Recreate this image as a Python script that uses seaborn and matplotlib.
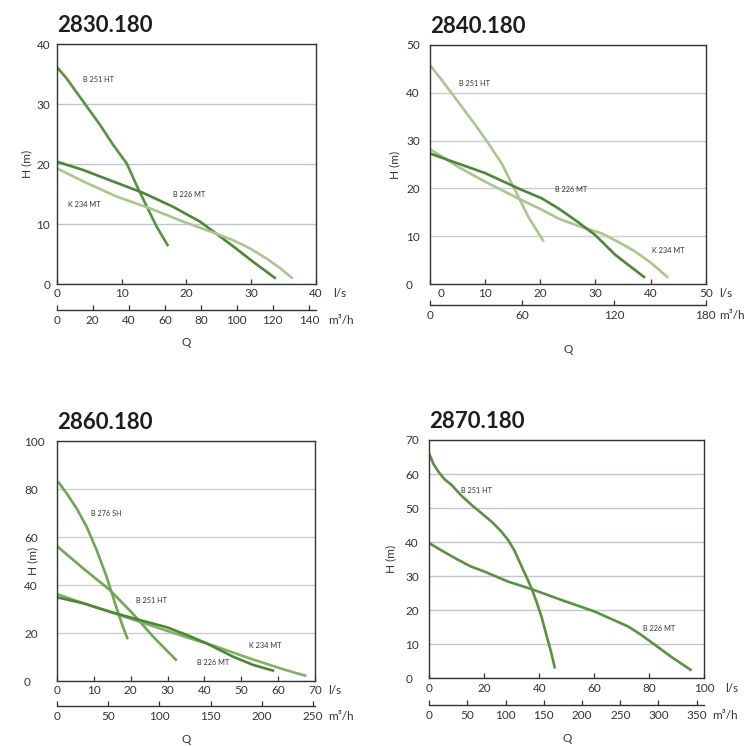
import matplotlib
matplotlib.use('Agg')
import matplotlib.pyplot as plt
import matplotlib.transforms as mtransforms
import seaborn as sns

# ---- data (Q in l/s, H in m) ----
# 2830.180
p1_b251_q = [0, 1.5, 4.1, 6.7, 8.7, 10.8, 12.3, 13.9, 15.4, 17.2]
p1_b251_h = [36.2, 34.3, 30.4, 26.5, 23.2, 20.1, 16.5, 12.9, 9.6, 6.3]
p1_b226_q = [0, 4.1, 8.2, 13.3, 17.9, 22.1, 24.6, 27.2, 30.3, 33.8]
p1_b226_h = [20.4, 19.0, 17.3, 15.2, 12.9, 10.4, 8.4, 6.3, 3.7, 0.9]
p1_k234_q = [0, 4.1, 9.2, 14.4, 19.5, 24.6, 27.2, 29.7, 32.3, 34.5, 36.4]
p1_k234_h = [19.3, 17.1, 14.6, 12.6, 10.4, 8.4, 7.3, 6.0, 4.3, 2.6, 0.9]

# 2840.180
p2_b251_q = [0, 2.1, 5.1, 8.2, 10.6, 13.0, 15.4, 17.8, 20.6]
p2_b251_h = [45.8, 42.7, 38.1, 33.3, 29.4, 25.2, 19.7, 14.1, 8.9]
p2_b226_q = [0, 5.1, 10, 16, 20.3, 23.3, 26.3, 29.9, 33.6, 39]
p2_b226_h = [27.3, 25.2, 23.2, 20.0, 17.9, 15.8, 13.4, 10.3, 6.1, 1.3]
p2_k234_q = [0, 5.1, 10, 16, 20, 23.3, 27, 31.1, 34, 37.2, 40.2, 43.2]
p2_k234_h = [28.2, 24.5, 21.4, 17.9, 15.7, 13.7, 12.1, 10.6, 8.9, 6.8, 4.3, 1.3]

# 2860.180
p3_b276_q = [0.4, 2.7, 5.4, 8.1, 10.8, 13.5, 15.8, 17.6, 19.2]
p3_b276_h = [83.0, 78.2, 71.9, 64.3, 54.6, 43.5, 32.4, 24.0, 17.4]
p3_b251_q = [0, 7.2, 14.4, 20.7, 26.1, 32.5]
p3_b251_h = [56.3, 46.9, 37.9, 27.9, 18.5, 8.5]
p3_b226_q = [0, 7.2, 14.4, 22.5, 29.8, 35.2, 40.6, 47.8, 53.2, 58.9]
p3_b226_h = [34.9, 32.4, 28.9, 25.4, 22.4, 19.2, 15.7, 10.1, 6.7, 4.2]
p3_k234_q = [0, 7.2, 16.2, 25.2, 35.2, 43.3, 52.3, 61.3, 67.6]
p3_k234_h = [36.3, 32.4, 27.9, 23.3, 18.2, 14.3, 9.4, 4.9, 2.1]

# 2870.180
p4_b251_q = [0, 1.5, 3.3, 5.5, 8.1, 11.5, 15.4, 19, 22.7, 26, 28.7, 31, 33.6,
             35.5, 37.2, 39, 40.8, 42.5, 44.2, 45.7]
p4_b251_h = [65.9, 63.0, 60.7, 58.5, 56.8, 53.8, 50.9, 48.5, 46.0, 43.3, 40.6, 37.5,
             32.8, 29.5, 26.4, 22.5, 18.1, 13.0, 8.0, 2.9]
p4_b226_q = [0, 5, 10.5, 15, 20.2, 28.7, 37.2, 48.1, 60.2, 66, 72.4, 77, 82.1, 88, 95.4]
p4_b226_h = [39.7, 37.3, 34.8, 32.9, 31.3, 28.4, 26.2, 23.0, 19.6, 17.5, 15.2, 12.8,
             9.8, 6.3, 2.3]

titles = ['2830.180', '2840.180', '2860.180', '2870.180']
y_ticks = [range(0, 41, 10), range(0, 51, 10), range(0, 101, 20), range(0, 71, 10)]
x_ticks = [range(0, 41, 10), range(0, 51, 10), range(0, 71, 10), range(0, 101, 20)]
m3h_ticks = [range(0, 141, 20), [0, 60, 120, 180], range(0, 251, 50), range(0, 351, 50)]

DARK = '#4c8736'
MID = '#5b9143'
LIGHT = '#a9c690'
MID3 = '#6fa657'
LIGHT3 = '#7eb166'
GRID_BLUE = '#bcc6d8'
GRID_GREY = '#cdcdcd'
INK = '#333333'

# name, q, h, colour, label position (l/s, m)
curves = [
    [('B 251 HT', p1_b251_q, p1_b251_h, MID, (4.0, 34.1)),
     ('B 226 MT', p1_b226_q, p1_b226_h, DARK, (18.0, 15.0)),
     ('K 234 MT', p1_k234_q, p1_k234_h, LIGHT, (1.8, 13.3))],
    [('B 251 HT', p2_b251_q, p2_b251_h, LIGHT, (5.2, 42.0)),
     ('K 234 MT', p2_k234_q, p2_k234_h, LIGHT, (40.3, 7.1)),
     ('B 226 MT', p2_b226_q, p2_b226_h, DARK, (22.6, 19.8))],
    [('B 276 SH', p3_b276_q, p3_b276_h, MID3, (9.2, 69.9)),
     ('B 251 HT', p3_b251_q, p3_b251_h, MID3, (21.6, 33.5)),
     ('K 234 MT', p3_k234_q, p3_k234_h, LIGHT3, (52.0, 15.0)),
     ('B 226 MT', p3_b226_q, p3_b226_h, DARK, (37.9, 7.6))],
    [('B 251 HT', p4_b251_q, p4_b251_h, MID, (11.5, 55.3)),
     ('B 226 MT', p4_b226_q, p4_b226_h, MID, (77.8, 14.7))],
]

# layout in figure fractions + pixel offsets
rects = [[0.0755, 0.6193, 0.3453, 0.3217],
         [0.5726, 0.6193, 0.3671, 0.3204],
         [0.0755, 0.0871, 0.3443, 0.3217],
         [0.5716, 0.0907, 0.3662, 0.3195]]
grid_colors = [GRID_BLUE, GRID_GREY, GRID_GREY, GRID_BLUE]
sec_offset_px = [26, 21, 25, 27]
ls_dx_px = [17, 13, 13, 21]
m3h_dx_px = [12, 13, 13, 8]
ylabel_x = [-0.095, -0.109, -0.072, -0.121]
q_y = [-0.242, -0.276, -0.242, -0.252]
# y tick label alignment: (ha, pad in px, outward tick length in px)
ytick_style = [('right', 6.5, 0), ('left', 24, 6), ('left', 32.7, 0), ('left', 24, 6)]

sns.set_theme(style='white')
plt.rcParams['font.family'] = ['Lato', 'DejaVu Sans']
PX = 0.72  # points per pixel at dpi 100

fig = plt.figure(figsize=(7.51, 7.46), dpi=100)

for i in range(4):
    ax = fig.add_axes(rects[i])
    xmax = x_ticks[i][-1]
    ymax = y_ticks[i][-1]

    for name, q, h, col, (lx, ly) in curves[i]:
        sns.lineplot(x=q, y=h, ax=ax, color=col, lw=1.9, sort=False,
                     estimator=None, solid_capstyle='butt', solid_joinstyle='round')
        ax.text(lx, ly, name, fontsize=5.3, color=INK, ha='left', va='center')

    ax.set_xlim(0, xmax)
    ax.set_ylim(0, ymax)
    ax.set_yticks(list(y_ticks[i]))
    ax.set_xticks(list(x_ticks[i]))
    ax.yaxis.grid(True, color=grid_colors[i], lw=1.0)
    ax.xaxis.grid(False)
    ax.set_axisbelow(True)
    for s in ax.spines.values():
        s.set_color(INK)
        s.set_linewidth(1.0)

    ha, pad_px, tl_px = ytick_style[i]
    ax.tick_params(axis='y', direction='out', length=tl_px * PX, width=0.8,
                   color='#777777', pad=pad_px * PX - tl_px * PX,
                   labelsize=8.5, labelcolor=INK)
    for lab in ax.get_yticklabels():
        lab.set_ha(ha)
    ax.tick_params(axis='x', direction='in', length=3.5, width=0.9, color=INK,
                   pad=3, labelsize=8.5, labelcolor=INK)

    ax.set_xlabel('')
    ax.set_ylabel('H (m)', fontsize=8.5, color=INK)
    ax.yaxis.set_label_coords(ylabel_x[i], 0.5)
    ax.set_title(titles[i], loc='left', fontsize=16, fontweight='bold',
                 color='#1e1e1e', pad=8.5)

    if i == 1:
        lab = ax.get_xticklabels()[0]
        lab.set_transform(lab.get_transform() +
                          mtransforms.ScaledTranslation(11 / 100, 0, fig.dpi_scale_trans))

    # m3/h axis below
    ax2 = ax.twiny()
    ax2.set_xlim(0, xmax * 3.6)
    ax2.set_xticks(list(m3h_ticks[i]))
    ax2.xaxis.set_ticks_position('bottom')
    ax2.xaxis.set_label_position('bottom')
    ax2.spines['bottom'].set_position(('outward', sec_offset_px[i] * PX))
    for s in ['top', 'left', 'right']:
        ax2.spines[s].set_visible(False)
    ax2.spines['bottom'].set_color(INK)
    ax2.spines['bottom'].set_linewidth(1.0)
    ax2.tick_params(axis='x', direction='in', length=3.5, width=0.9, color=INK,
                    pad=3.5, labelsize=8.5, labelcolor=INK)
    ax2.grid(False)

    ax.annotate('l/s', xy=(1, 0), xycoords='axes fraction',
                xytext=(ls_dx_px[i] * PX, -3), textcoords='offset points',
                ha='left', va='top', fontsize=8.5, color=INK)
    ax.annotate('m³/h', xy=(1, 0), xycoords='axes fraction',
                xytext=(m3h_dx_px[i] * PX, -sec_offset_px[i] * PX - 3.5),
                textcoords='offset points', ha='left', va='top',
                fontsize=8.5, color=INK)
    ax.text(0.5, q_y[i], 'Q', transform=ax.transAxes, ha='center', va='center',
            fontsize=8.5, color=INK)

fig.savefig('out.png', dpi=100, facecolor='white')
